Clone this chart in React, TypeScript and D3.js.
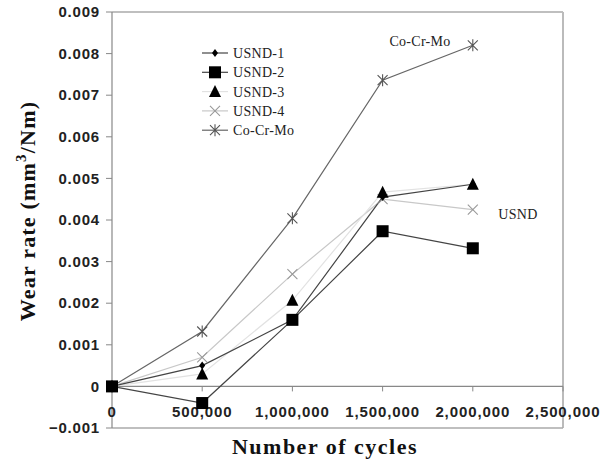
import React from "react";
import * as d3 from "d3";

const cycles = [0, 500000, 1000000, 1500000, 2000000];
const usnd1 = [0, 0.0005, 0.0016, 0.00455, 0.00486];
const usnd2 = [0, -0.0004, 0.0016, 0.00373, 0.00332];
const usnd3 = [0, 0.0003, 0.00207, 0.00467, 0.00486];
const usnd4 = [0, 0.0007, 0.0027, 0.0045, 0.00425];
const cocrmo = [0, 0.00132, 0.00404, 0.00736, 0.0082];
const yTicks = [-0.001, 0, 0.001, 0.002, 0.003, 0.004, 0.005, 0.006, 0.007, 0.008, 0.009];
const xTicks = [0, 500000, 1000000, 1500000, 2000000, 2500000];

type Series = { name: string; values: number[]; stroke: string; marker: string };
const series: Series[] = [
  { name: "USND-1", values: usnd1, stroke: "#444", marker: "diamond" },
  { name: "USND-2", values: usnd2, stroke: "#444", marker: "square" },
  { name: "USND-3", values: usnd3, stroke: "#e2e2e2", marker: "triangle" },
  { name: "USND-4", values: usnd4, stroke: "#c8c8c8", marker: "x" },
  { name: "Co-Cr-Mo", values: cocrmo, stroke: "#666", marker: "star" },
];

function Marker({ type, x, y }: { type: string; x: number; y: number }) {
  if (type === "diamond")
    return <path d={`M${x},${y - 4}L${x + 3},${y}L${x},${y + 4}L${x - 3},${y}Z`} fill="#000" />;
  if (type === "square") return <rect x={x - 6} y={y - 6} width={12} height={12} fill="#000" />;
  if (type === "triangle")
    return <path d={`M${x},${y - 6.5}L${x + 6},${y + 5.5}L${x - 6},${y + 5.5}Z`} fill="#000" />;
  if (type === "x")
    return (
      <path d={`M${x - 5},${y - 5}L${x + 5},${y + 5}M${x - 5},${y + 5}L${x + 5},${y - 5}`} stroke="#999" strokeWidth={1.1} />
    );
  return (
    <path
      d={`M${x - 5},${y - 5}L${x + 5},${y + 5}M${x - 5},${y + 5}L${x + 5},${y - 5}M${x},${y - 6}L${x},${y + 6}`}
      stroke="#555"
      strokeWidth={1.1}
    />
  );
}

export default function App() {
  const W = 604, H = 468;
  const left = 112, right = 563, top = 12, bottom = 428;
  const x = d3.scaleLinear().domain([0, 2500000]).range([left, right]);
  const y = d3.scaleLinear().domain([-0.001, 0.009]).range([bottom, top]);
  const line = d3.line<number>().x((_, i) => x(cycles[i])).y((d) => y(d));
  const fmtX = d3.format(",");
  const fmtY = (v: number) => (v === 0 ? "0" : d3.format(".3f")(v));
  const arial = "Arial, 'Liberation Sans', sans-serif";
  const serif = "'Times New Roman', 'Liberation Serif', serif";
  const order = [4, 3, 2, 1, 0];
  return (
    <svg width={W} height={H} style={{ position: "absolute", left: 0, top: 0, background: "#fff" }}>
      <rect x={0} y={0} width={W} height={H} fill="#fff" />
      {/* frame */}
      <line x1={left} x2={right} y1={top} y2={top} stroke="#aaa" strokeWidth={1.5} />
      <line x1={right} x2={right} y1={top} y2={bottom} stroke="#bbb" strokeWidth={2} />
      <line x1={left} x2={right} y1={bottom} y2={bottom} stroke="#aaa" strokeWidth={1.5} />
      <line x1={left} x2={left} y1={top} y2={bottom} stroke="#888" strokeWidth={1.2} />
      <line x1={left} x2={right} y1={y(0)} y2={y(0)} stroke="#888" strokeWidth={1.2} />
      {yTicks.map((t) => (
        <g key={t}>
          <line x1={left - 6} x2={left} y1={y(t)} y2={y(t)} stroke="#888" />
          <text x={left - 12} y={y(t)} dy="0.35em" textAnchor="end" fontFamily={arial} fontWeight="bold" fontSize={15} letterSpacing={0.8} fill="#222">
            {fmtY(t)}
          </text>
        </g>
      ))}
      {xTicks.map((t) => (
        <g key={t}>
          <line x1={x(t)} x2={x(t)} y1={y(0)} y2={y(0) + 5} stroke="#888" />
          <text x={x(t)} y={412} dy="0.35em" textAnchor="middle" fontFamily={arial} fontWeight="bold" fontSize={15} letterSpacing={0.9} fill="#222">
            {fmtX(t)}
          </text>
        </g>
      ))}
      {order.map((i) => {
        const s = series[i];
        return <path key={s.name} d={line(s.values) || ""} fill="none" stroke={s.stroke} strokeWidth={1.2} />;
      })}
      {order.map((i) => {
        const s = series[i];
        return (
          <g key={s.name + "m"}>
            {s.values.map((v, j) => (
              <Marker key={j} type={s.marker} x={x(cycles[j])} y={y(v)} />
            ))}
          </g>
        );
      })}
      {/* legend */}
      {series.map((s, i) => {
        const ly = 53 + i * 19.3;
        return (
          <g key={s.name + "l"}>
            <line x1={202} x2={228} y1={ly} y2={ly} stroke={s.stroke} strokeWidth={1.2} />
            <Marker type={s.marker} x={215} y={ly} />
            <text x={233} y={ly} dy="0.35em" fontFamily={serif} fontSize={14} letterSpacing={0.3} fill="#222">
              {s.name}
            </text>
          </g>
        );
      })}
      <text x={420} y={41} dy="0.35em" textAnchor="middle" fontFamily={serif} fontSize={14} letterSpacing={0.3} fill="#222">Co-Cr-Mo</text>
      <text x={518} y={214} dy="0.35em" textAnchor="middle" fontFamily={serif} fontSize={14} letterSpacing={0.3} fill="#222">USND</text>
      <text
        transform={`translate(27,211) rotate(-90)`}
        textAnchor="middle"
        fontFamily={serif}
        fontWeight="bold"
        fontSize={22}
        letterSpacing={1.2}
        dy="0.35em"
        fill="#111"
      >
        Wear rate (mm<tspan dy="-9" fontSize={15}>3</tspan><tspan dy="9">/Nm)</tspan>
      </text>
      <text x={325} y={446} dy="0.35em" textAnchor="middle" fontFamily={serif} fontWeight="bold" fontSize={22} letterSpacing={1.5} fill="#111">
        Number of cycles
      </text>
    </svg>
  );
}
